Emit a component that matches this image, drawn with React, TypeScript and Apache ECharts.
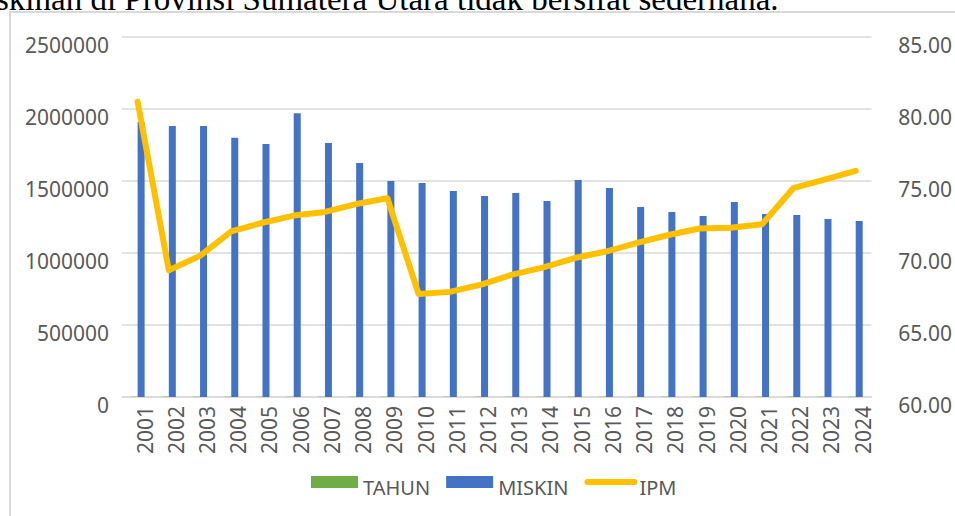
import React, { useEffect, useRef } from "react";
import * as echarts from "echarts";

const years = ["2001","2002","2003","2004","2005","2006","2007","2008","2009","2010","2011","2012","2013","2014","2015","2016","2017","2018","2019","2020","2021","2022","2023","2024"];
const tahun = [2001,2002,2003,2004,2005,2006,2007,2008,2009,2010,2011,2012,2013,2014,2015,2016,2017,2018,2019,2020,2021,2022,2023,2024];
const miskin = [1910000,1882000,1882000,1800000,1757000,1970000,1764000,1625000,1500000,1486000,1430000,1396000,1417000,1361000,1507000,1452000,1319000,1285000,1257000,1354000,1271000,1264000,1236000,1222000];
const ipm = [80.5,68.8,69.8,71.5,72.1,72.6,72.85,73.4,73.8,67.15,67.3,67.8,68.5,69.0,69.65,70.1,70.7,71.25,71.7,71.75,72.0,74.5,75.1,75.7];
const leftTicks = { min: 0, max: 2500000, interval: 500000 };
const rightTicks = { min: 60, max: 85, interval: 5 };

const FONT = "'Noto Sans', sans-serif";
const GREY = "#595959";

const tok = (pad: number[]) => ({
  fontFamily: FONT,
  fontSize: 21,
  color: GREY,
  padding: pad,
});

export default function App() {
  const ref = useRef<HTMLDivElement>(null);
  useEffect(() => {
    if (!ref.current) return;
    const chart = echarts.init(ref.current, null, { renderer: "svg" });
    chart.setOption({
      animation: false,
      grid: { left: 122, right: 82, top: 37, bottom: 119, containLabel: false },
      legend: {
        left: 311,
        top: 476,
        padding: 0,
        itemWidth: 47,
        itemHeight: 12,
        itemGap: 16,
        formatter: "{a|{name}}",
        textStyle: {
          fontFamily: FONT,
          fontSize: 20,
          color: GREY,
          rich: { a: { fontFamily: FONT, fontSize: 20, color: GREY, padding: [10, 0, 0, 0] } },
        },
        data: [
          { name: "TAHUN", icon: "rect" },
          { name: "MISKIN", icon: "rect" },
          {
            name: "IPM",
            itemStyle: { opacity: 0 },
            lineStyle: { color: "#FFC000", width: 6, cap: "round" },
          },
        ],
      },
      xAxis: {
        type: "category",
        data: years,
        boundaryGap: true,
        axisTick: { show: false },
        axisLine: { lineStyle: { color: "#D9D9D9", width: 1.5 } },
        axisLabel: {
          interval: 0,
          rotate: 90,
          margin: 9,
          fontFamily: FONT,
          fontSize: 21,
          color: GREY,
          formatter: (v: string) => "{a|" + v + "}",
          rich: { a: tok([14, 0, 0, 0]) },
        },
      },
      yAxis: [
        {
          type: "value",
          min: leftTicks.min,
          max: leftTicks.max,
          interval: leftTicks.interval,
          axisLine: { show: false },
          axisTick: { show: false },
          splitLine: { lineStyle: { color: "#D9D9D9", width: 1.5 } },
          axisLabel: {
            margin: 13,
            fontFamily: FONT,
            fontSize: 21,
            color: GREY,
            formatter: (v: number) => "{a|" + String(v) + "}",
            rich: { a: tok([15, 0, 0, 0]) },
          },
        },
        {
          type: "value",
          min: rightTicks.min,
          max: rightTicks.max,
          interval: rightTicks.interval,
          axisLine: { show: false },
          axisTick: { show: false },
          splitLine: { show: false },
          axisLabel: {
            margin: 27,
            fontFamily: FONT,
            fontSize: 21,
            color: GREY,
            formatter: (v: number) => "{a|" + v.toFixed(2) + "}",
            rich: { a: tok([15, 0, 0, 0]) },
          },
        },
      ],
      series: [
        {
          name: "TAHUN",
          type: "bar",
          data: tahun,
          barWidth: 7,
          barGap: "0%",
          itemStyle: { color: "#70AD47" },
        },
        {
          name: "MISKIN",
          type: "bar",
          data: miskin,
          barWidth: 7,
          barGap: "0%",
          itemStyle: { color: "#4472C4" },
        },
        {
          name: "IPM",
          type: "line",
          yAxisIndex: 1,
          data: ipm,
          symbol: "none",
          showSymbol: false,
          z: 5,
          itemStyle: { color: "#FFC000" },
          lineStyle: { color: "#FFC000", width: 6, cap: "round", join: "round" },
        },
      ],
    });
    return () => chart.dispose();
  }, []);

  return (
    <div
      style={{
        position: "fixed",
        left: 0,
        top: 0,
        width: 955,
        height: 516,
        overflow: "hidden",
        background: "#ffffff",
      }}
    >
      <div
        style={{
          position: "absolute",
          left: -4,
          top: -17,
          whiteSpace: "nowrap",
          fontFamily: "'Liberation Serif', 'Times New Roman', serif",
          fontSize: 33,
          lineHeight: "33px",
          color: "#000",
        }}
      >
        skinan di Provinsi Sumatera Utara tidak bersifat sederhana.
      </div>
      <div
        style={{
          position: "absolute",
          left: 9,
          top: 11,
          width: 1000,
          height: 600,
          border: "2px solid #D9D9D9",
          boxSizing: "border-box",
        }}
      />
      <div ref={ref} style={{ position: "absolute", left: 0, top: 0, width: 955, height: 516 }} />
    </div>
  );
}
